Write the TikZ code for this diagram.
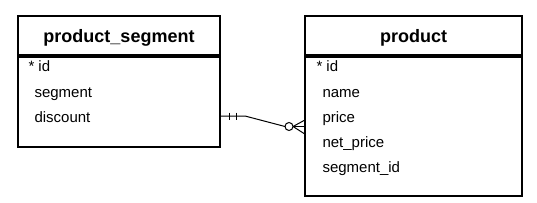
\documentclass[tikz,border=0pt]{standalone}
\usepackage{fontspec}
\setmainfont{Liberation Sans}
\usetikzlibrary{positioning}

\begin{document}
\begin{tikzpicture}[x=1pt, y=-1pt, line width=1pt]
  \tikzset{
    tblhead/.style={draw, line width=2pt, anchor=north west, inner sep=0pt,
      minimum height=39pt, text height=15pt, text depth=0pt,
      font=\fontsize{18}{20}\selectfont\bfseries},
    tblbody/.style={draw, line width=2pt, anchor=north west, inner sep=0pt},
    fld/.style={anchor=base west, inner sep=0pt, font=\fontsize{15}{17}\selectfont},
  }
  \useasboundingbox (0,0) rectangle (537,203);
  % product_segment table
  \node[tblhead, minimum width=202pt] (seghead) at (17,15) {product\_segment};
  \node[tblbody, minimum width=202pt, minimum height=90pt] (segbody) at (seghead.south west) {};
  \node[fld] (segid) at (28,72) {* id};
  \foreach \f/\y in {segment/97, discount/122}
    \node[fld] (seg\f) at (34,\y) {\f};
  % product table
  \node[tblhead, minimum width=217pt] (prodhead) at (304,15) {product};
  \node[tblbody, minimum width=217pt, minimum height=139pt] (prodbody) at (prodhead.south west) {};
  \node[fld] (prodid) at (316,72) {* id};
  \foreach \f/\n/\y in {name/name/97, price/price/122, net\_price/netprice/147, segment\_id/segmentid/172}
    \node[fld] (prod\n) at (322,\y) {\f};
  % relationship: one and only one -- zero or many
  \coordinate (segrel) at ([yshift=-14pt]segbody.east);
  \draw (segrel) -- ++(24,0) -- ([xshift=-19pt]prodbody.west);
  \foreach \dx in {8,15}
    \draw ([xshift=\dx pt]segrel) ++(0,-3.5) -- ++(0,7);
  \draw ([xshift=-15pt]prodbody.west) circle (4);
  \foreach \dy in {6,0,-7}
    \draw ([xshift=-11pt]prodbody.west) -- ([yshift=\dy pt]prodbody.west);
\end{tikzpicture}
\end{document}
